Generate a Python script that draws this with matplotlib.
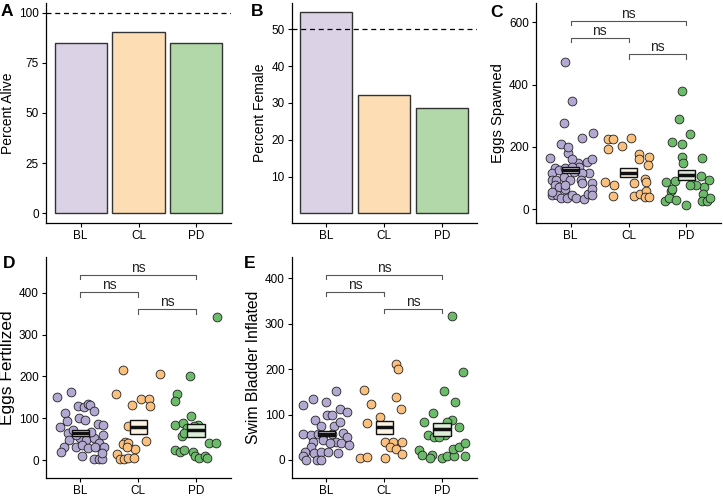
import matplotlib
matplotlib.use("Agg")
import matplotlib.pyplot as plt
import numpy as np

plt.rcParams['font.family'] = ['Liberation Sans', 'DejaVu Sans']

groups = ["BL", "CL", "PD"]
point_colors = ["#B3A8D2", "#FBC07E", "#6CBB6A"]
bar_colors = ["#DCD2E6", "#FDDDB3", "#B2D8AA"]
box_colors = ["#ECE8F3", "#FEF2E2", "#DCEDD8"]

# panel A / B
pct_alive = [84.7, 90.5, 84.7]
pct_female = [54.6, 32.2, 28.6]

# panel C - eggs spawned (value, jitter offset)
spawn_bl = [472, 348, 276, 246, 228, 209, 166, 180, 150, 152, 160, 160, 132, 116, 126, 132,
            137, 116, 116, 94, 94, 105, 94, 94, 83, 83, 78, 73, 64, 46, 46, 37, 37, 46, 37, 32,
            49, 64, 46, 57, 78, 121, 137, 201]
spawn_bl_x = [-0.09, 0.03, -0.12, 0.39, 0.20, -0.16, -0.35, -0.04, 0.12, 0.29, 0.36, 0.02,
              -0.27, -0.32, -0.20, -0.09, 0.14, 0.32, 0.20, -0.33, -0.25, -0.12, -0.02, 0.17,
              0.19, 0.37, -0.28, -0.20, -0.09, -0.32, -0.23, -0.16, -0.06, 0.03, 0.09, 0.23,
              0.30, 0.37, 0.36, -0.32, -0.09, 0.06, 0.03, -0.04]
spawn_cl = [226, 226, 228, 192, 203, 179, 160, 167, 141, 87, 77, 43, 83, 96, 86, 43, 49, 58, 41, 41]
spawn_cl_x = [-0.35, -0.27, 0.05, -0.36, -0.11, 0.18, 0.19, 0.35, 0.33, -0.41, -0.25, -0.26,
              0.09, 0.28, 0.30, 0.10, 0.20, 0.31, 0.28, 0.36]
spawn_pd = [378, 290, 215, 209, 241, 169, 148, 163, 89, 91, 108, 94, 73, 78, 78, 59, 27, 35, 30,
            14, 49, 27, 25, 35, 64]
spawn_pd_x = [-0.07, -0.13, -0.24, -0.08, 0.07, -0.08, -0.06, 0.27, -0.36, -0.20, 0.25, 0.39,
              0.31, 0.16, 0.07, -0.27, -0.37, -0.30, -0.18, 0.0, 0.28, 0.27, 0.35, 0.41, -0.24]

# panel D - eggs fertilized
fert_bl = [151, 163, 113, 93, 129, 127, 135, 131, 117, 80, 100, 96, 86, 84, 65, 72, 49, 52, 48,
           52, 60, 40, 32, 18, 32, 36, 28, 32, 32, 10, 2, 2, 2, 16, 68, 60]
fert_bl_x = [-0.40, -0.16, -0.26, -0.23, -0.04, 0.06, 0.14, 0.17, 0.23, -0.35, -0.03, 0.08,
             0.30, 0.39, -0.21, -0.12, -0.20, 0.00, 0.10, 0.23, 0.39, 0.32, -0.28, -0.33,
             -0.08, 0.03, 0.13, 0.26, 0.40, 0.03, 0.23, 0.32, 0.38, 0.38, 0.19, -0.08]
fert_cl = [214, 158, 131, 146, 146, 130, 206, 82, 42, 38, 41, 45, 14, 2, 2, 26, 4, 4, 30]
fert_cl_x = [-0.27, -0.39, -0.10, 0.04, 0.18, 0.21, 0.38, -0.17, -0.22, -0.26, -0.17, 0.14,
             -0.36, -0.32, -0.24, -0.06, -0.17, -0.07, -0.19]
fert_pd = [343, 201, 159, 142, 106, 84, 88, 84, 76, 57, 64, 41, 41, 24, 20, 24, 20, 10, 6, 10, 6,
           72, 81]
fert_pd_x = [0.36, -0.10, -0.33, -0.36, -0.09, -0.37, -0.23, 0.03, -0.16, -0.25, -0.21, 0.22,
             0.35, -0.36, -0.27, -0.21, -0.05, -0.01, 0.05, 0.15, 0.19, 0.05, -0.04]

# panel E - swim bladder inflated
swim_bl = [121, 134, 128, 152, 112, 105, 87, 98, 99, 75, 75, 84, 57, 55, 57, 55, 57, 60, 51, 40,
           43, 40, 38, 33, 29, 18, 9, 1, 15, 18, 18, 16, 1, 1, 37]
swim_bl_x = [-0.40, -0.24, -0.01, 0.16, 0.23, 0.36, -0.20, 0.01, 0.09, -0.10, 0.14, 0.23,
             -0.40, -0.26, -0.14, -0.06, 0.09, 0.28, 0.36, -0.23, -0.05, 0.16, 0.26, 0.39,
             -0.26, -0.37, -0.40, -0.36, -0.21, -0.09, 0.02, 0.20, -0.17, -0.09, 0.06]
swim_cl = [154, 123, 81, 211, 200, 139, 112, 94, 4, 6, 40, 40, 29, 24, 39, 13, 4]
swim_cl_x = [-0.35, -0.22, -0.29, 0.20, 0.24, 0.21, 0.29, -0.08, -0.42, -0.29, 0.01, 0.16,
             0.10, 0.20, 0.31, 0.30, 0.02]
swim_pd = [316, 153, 193, 128, 84, 103, 55, 51, 88, 84, 55, 73, 22, 11, 11, 4, 4, 9, 9, 24, 29,
           37, 9, 62, 50]
swim_pd_x = [0.17, 0.04, 0.36, 0.22, -0.32, -0.16, -0.25, -0.13, 0.18, 0.08, 0.05, 0.29, -0.40,
             -0.35, -0.18, -0.20, 0.00, 0.08, 0.21, 0.19, 0.29, 0.39, 0.39, 0.02, -0.06]

# mean and SE (read from crossbars)
spawn_mean = [126, 118, 111]
spawn_se = [11, 15.5, 16.5]
fert_mean = [64, 79, 71]
fert_se = [7.2, 16.3, 15.1]
swim_mean = [58, 72, 68]
swim_se = [6.2, 14.7, 14.2]

# significance brackets: (left group, right group, height, leg bottom)
spawn_brackets = [(0, 2, 604, 591), (0, 1, 550, 536), (1, 2, 497, 481)]
fert_brackets = [(0, 2, 442, 432), (0, 1, 401, 390), (1, 2, 360, 349)]
swim_brackets = [(0, 2, 407, 398), (0, 1, 369, 360), (1, 2, 332, 323)]

W, H = 723, 496
fig = plt.figure(figsize=(W / 100, H / 100), dpi=100)


def make_ax(left, right, top, bottom):
    ax = fig.add_axes([left / W, 1 - bottom / H, (right - left) / W, (bottom - top) / H])
    for s in ["top", "right"]:
        ax.spines[s].set_visible(False)
    for s in ["left", "bottom"]:
        ax.spines[s].set_linewidth(0.9)
    ax.tick_params(labelsize=8.5, length=3, width=0.8, colors="black", pad=2)
    ax.set_xlim(0.4, 3.6)
    ax.set_xticks([1, 2, 3])
    ax.set_xticklabels(groups)
    return ax


def bar_panel(ax, vals, ref, yticks, ylim, ylabel, lsize):
    ax.bar([1, 2, 3], vals, width=0.9, color=bar_colors, edgecolor="#333333", linewidth=1.0, zorder=2)
    ax.axhline(ref, color="black", linestyle=(0, (4, 3)), linewidth=0.9, zorder=3)
    ax.set_ylim(*ylim)
    ax.set_yticks(yticks)
    ax.set_ylabel(ylabel, fontsize=lsize, labelpad=3)


def dot_panel(ax, vals_list, offs_list, means, ses, brackets, yticks, ylim, ylabel, lsize):
    for i, (vals, offs) in enumerate(zip(vals_list, offs_list)):
        ax.scatter(np.array(offs) + i + 1, vals, s=40, color=point_colors[i], edgecolor="#222222",
                   linewidth=0.6, zorder=3)
        ax.add_patch(plt.Rectangle((i + 1 - 0.15, means[i] - ses[i]), 0.3, 2 * ses[i],
                                   facecolor=box_colors[i], edgecolor="#111111", linewidth=1.0, zorder=4))
        ax.plot([i + 1 - 0.15, i + 1 + 0.15], [means[i], means[i]], color="#111111", linewidth=2.5,
                zorder=5, solid_capstyle="butt")
    for g1, g2, h, leg in brackets:
        ax.plot([g1 + 1, g1 + 1, g2 + 1, g2 + 1], [leg, h, h, leg], color="#555555", linewidth=0.8,
                zorder=3)
        ax.text((g1 + g2) / 2 + 1, h, "ns", ha="center", va="bottom", fontsize=10, color="#222222")
    ax.set_ylim(*ylim)
    ax.set_yticks(yticks)
    ax.set_ylabel(ylabel, fontsize=lsize, labelpad=3)


axA = make_ax(46, 231, 3, 222.7)
bar_panel(axA, pct_alive, 100, [0, 25, 50, 75, 100], (-4.7, 104.8), "Percent Alive", 10)

axB = make_ax(291.7, 476.7, 3, 222.7)
bar_panel(axB, pct_female, 50, [10, 20, 30, 40, 50], (-2.5, 57.1), "Percent Female", 10)

axC = make_ax(536, 721, 3, 223.3)
dot_panel(axC, [spawn_bl, spawn_cl, spawn_pd], [spawn_bl_x, spawn_cl_x, spawn_pd_x],
          spawn_mean, spawn_se, spawn_brackets, [0, 200, 400, 600], (-45, 662), "Eggs Spawned", 10.7)

axD = make_ax(45.7, 230.7, 256.7, 478.3)
dot_panel(axD, [fert_bl, fert_cl, fert_pd], [fert_bl_x, fert_cl_x, fert_pd_x],
          fert_mean, fert_se, fert_brackets, [0, 100, 200, 300, 400], (-43.7, 486), "Eggs Fertilized",
          12.5)

axE = make_ax(291.7, 476.7, 256.7, 478.3)
dot_panel(axE, [swim_bl, swim_cl, swim_pd], [swim_bl_x, swim_cl_x, swim_pd_x],
          swim_mean, swim_se, swim_brackets, [0, 100, 200, 300, 400], (-40.3, 447.6),
          "Swim Bladder Inflated", 11.3)

# panel letters
for lab, x, y in [("A", 1, 4), ("B", 251, 4), ("C", 490, 5), ("D", 3, 256), ("E", 244, 256)]:
    fig.text(x / W, 1 - y / H, lab, fontsize=12.5, fontweight="bold", ha="left", va="top")

fig.savefig("out.png", dpi=100)
